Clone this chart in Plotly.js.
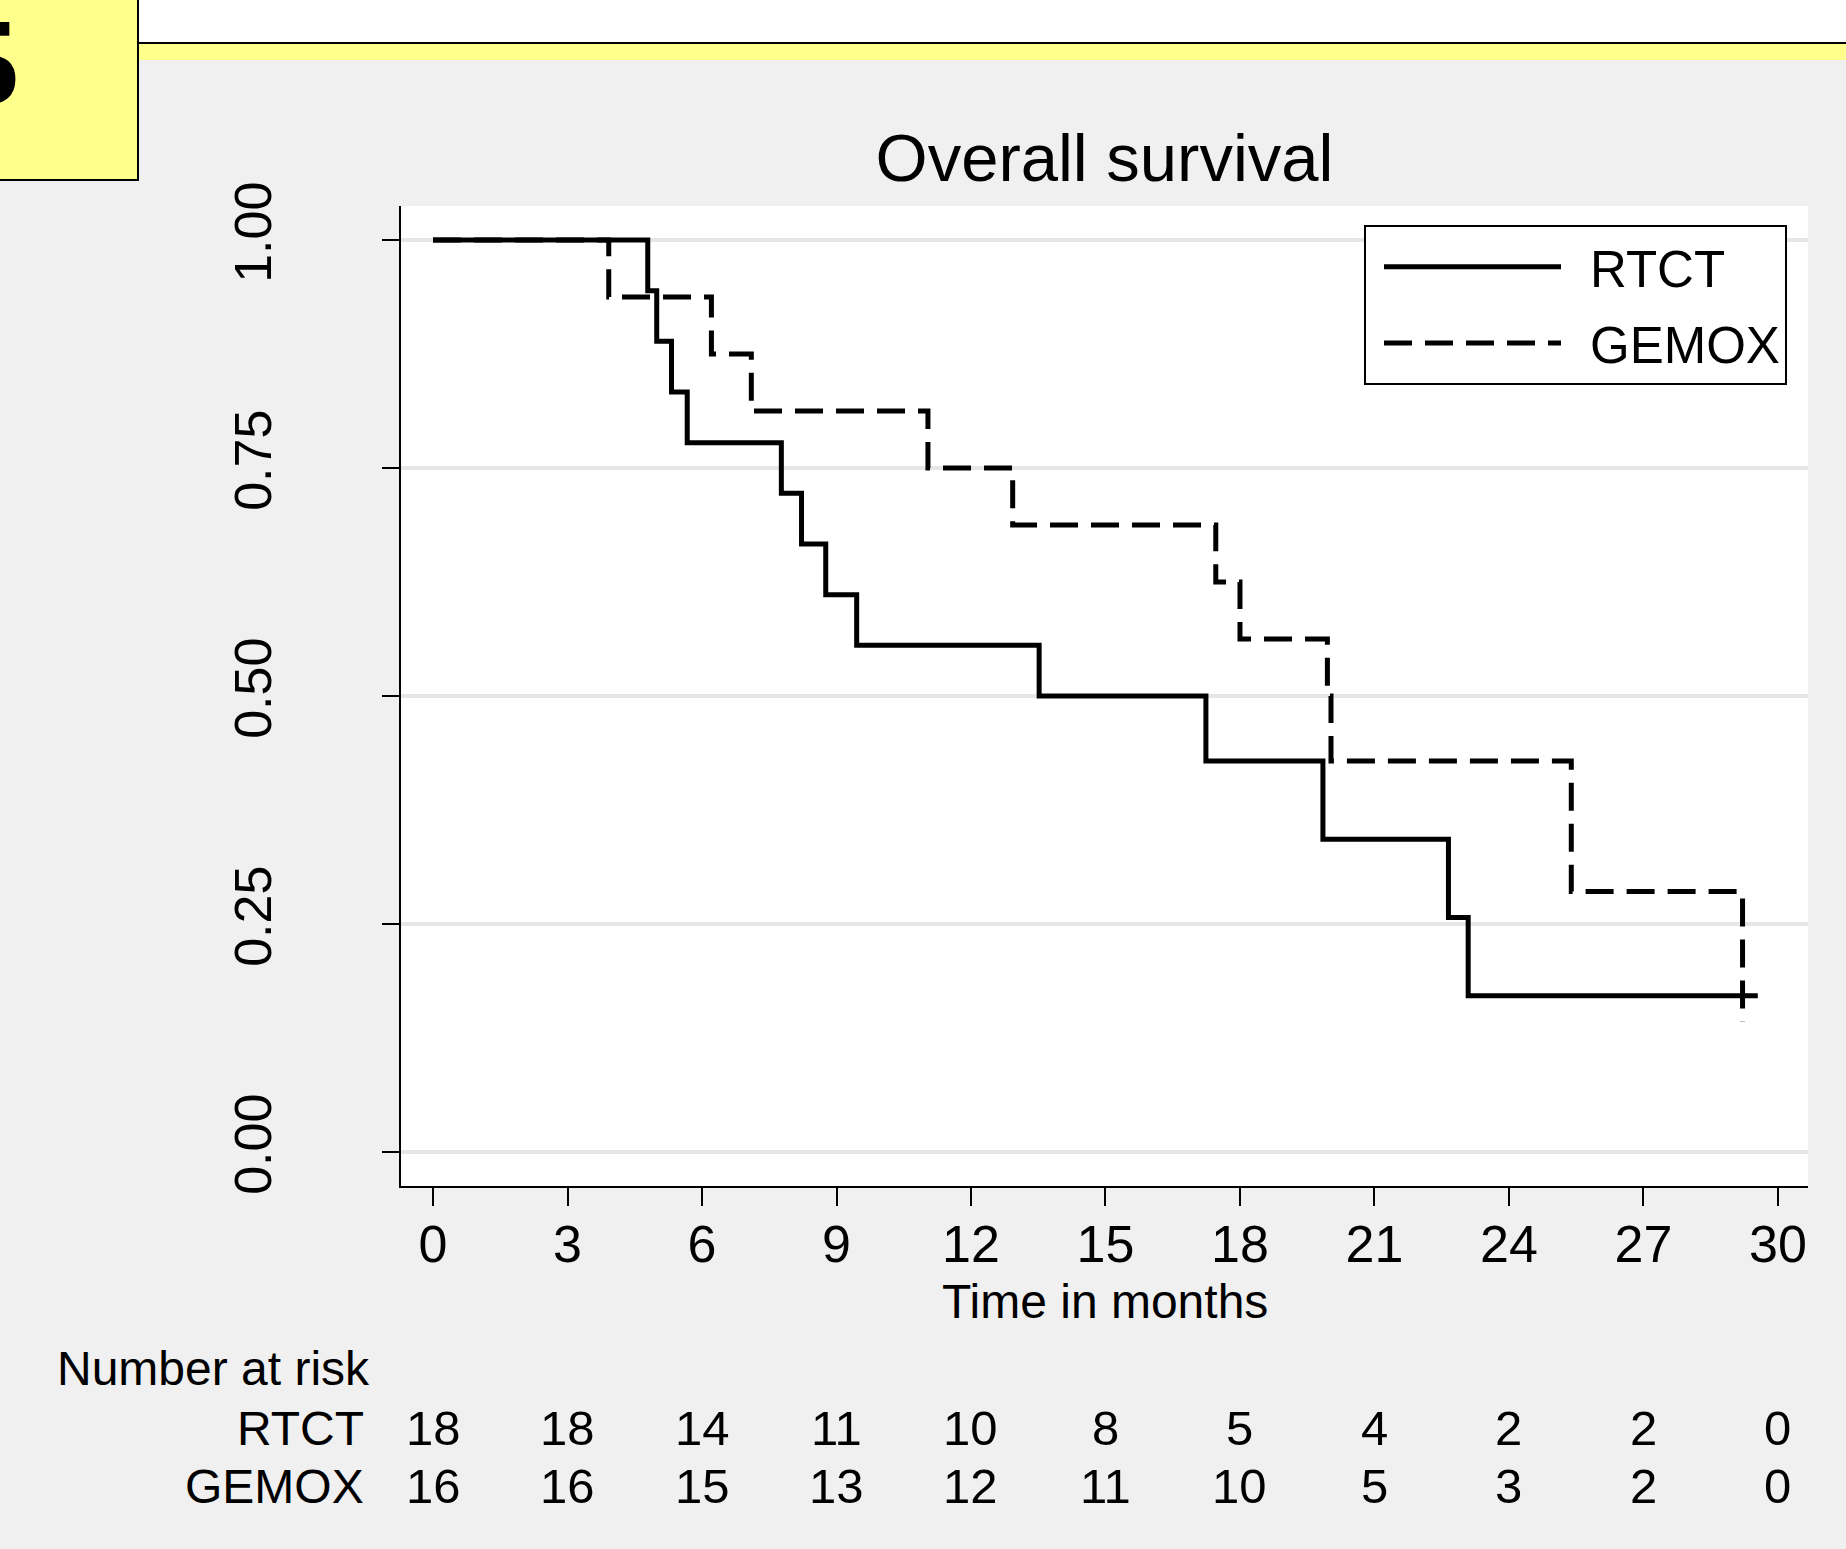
<!DOCTYPE html>
<html>
<head>
<meta charset="utf-8">
<script src="https://cdn.plot.ly/plotly-3.0.1.min.js"></script>
<style>
  html, body { margin:0; padding:0; background:#f0f0f0; overflow:hidden; }
  #wrap { position:relative; width:1846px; height:1549px; }
  #chart { position:absolute; left:0; top:0; width:1846px; height:1549px; }
  .deco { position:absolute; pointer-events:none; box-sizing:border-box; }
</style>
</head>
<body>
<div id="wrap">
  <div id="chart"></div>
  <div class="deco" style="left:138px; top:0; width:1708px; height:43px; background:#ffffff;"></div>
  <div class="deco" style="left:138px; top:42px; width:1708px; height:18px; background:#ffff8c; border-top:2px solid #000;"></div>
  <div class="deco" style="left:-2px; top:-2px; width:141px; height:183px; background:#ffff8c; border:2px solid #000; overflow:hidden;">
    <div style="position:absolute; right:117px; top:0px; font-family:'Liberation Serif','Times New Roman',serif; font-weight:bold; font-size:125px; line-height:125px; color:#000;">5</div>
  </div>
</div>
<script>
// ---- data ----
var seriesNames = ["RTCT", "GEMOX"];

var rtctTime = [0, 4.79, 4.99, 5.32, 5.67, 7.77, 8.22, 8.76, 9.45, 13.52, 17.24, 19.85, 22.65, 23.09, 29.55];
var rtctSurv = [1, 0.9444, 0.8889, 0.8333, 0.7778, 0.7222, 0.6667, 0.6111, 0.5556, 0.5, 0.4286, 0.3429, 0.2571, 0.1714, 0.1714];

var gemoxTime = [0, 3.92, 6.21, 7.10, 11.04, 12.93, 17.46, 18.0, 19.95, 20.03, 25.39, 29.21];
var gemoxSurv = [1, 0.9375, 0.875, 0.8125, 0.75, 0.6875, 0.625, 0.5625, 0.5, 0.4286, 0.2857, 0.1429];

var riskTimes = [0, 3, 6, 9, 12, 15, 18, 21, 24, 27, 30];
var rtctAtRisk = [18, 18, 14, 11, 10, 8, 5, 4, 2, 2, 0];
var gemoxAtRisk = [16, 16, 15, 13, 12, 11, 10, 5, 3, 2, 0];

var yTickVals = [0, 0.25, 0.5, 0.75, 1];

var chartTitle = "Overall survival";
var xTitle = "Time in months";
var riskHeader = "Number at risk";

// ---- style ----
var FONT = "Liberation Sans, Arial, Helvetica, sans-serif";
var W = 1846, H = 1549;
var M = {l: 401, r: 38, t: 206, b: 363};
var plotH = H - M.t - M.b;
function py(pixY) { return (H - M.b - pixY) / plotH; }
function px(pixX) { return (pixX - M.l) / (W - M.l - M.r); }

var traces = [
  {
    x: rtctTime, y: rtctSurv, name: seriesNames[0], legendgroup: "g1",
    type: "scatter", mode: "lines",
    line: {shape: "hv", color: "#000000", width: 5}
  },
  {
    x: gemoxTime, y: gemoxSurv, name: seriesNames[1], legendgroup: "g2",
    type: "scatter", mode: "lines",
    line: {shape: "hv", color: "#000000", width: 5, dash: "28px,13px"}
  }
];

var TXT = 48;
var annotations = [];
annotations.push({xref: "paper", yref: "paper", x: 0.5, y: py(1301), xanchor: "center", yanchor: "middle",
  text: xTitle, showarrow: false, font: {family: FONT, size: 48, color: "#000"}});
annotations.push({xref: "paper", yref: "paper", x: px(55), y: py(1368), xanchor: "left", yanchor: "middle",
  text: riskHeader, showarrow: false, font: {family: FONT, size: TXT, color: "#000"}});
annotations.push({xref: "paper", yref: "paper", x: px(366), y: py(1428), xanchor: "right", yanchor: "middle",
  text: seriesNames[0], showarrow: false, font: {family: FONT, size: TXT, color: "#000"}});
annotations.push({xref: "paper", yref: "paper", x: px(366), y: py(1486), xanchor: "right", yanchor: "middle",
  text: seriesNames[1], showarrow: false, font: {family: FONT, size: TXT, color: "#000"}});
for (var i = 0; i < riskTimes.length; i++) {
  annotations.push({xref: "x", yref: "paper", x: riskTimes[i], y: py(1428), xanchor: "center", yanchor: "middle",
    text: String(rtctAtRisk[i]), showarrow: false, font: {family: FONT, size: 49, color: "#000"}});
  annotations.push({xref: "x", yref: "paper", x: riskTimes[i], y: py(1486), xanchor: "center", yanchor: "middle",
    text: String(gemoxAtRisk[i]), showarrow: false, font: {family: FONT, size: 49, color: "#000"}});
}

var layout = {
  width: W, height: H,
  margin: M,
  paper_bgcolor: "#f0f0f0",
  plot_bgcolor: "#ffffff",
  font: {family: FONT, color: "#000000"},
  title: {
    text: chartTitle,
    font: {family: FONT, size: 67, color: "#000"},
    xref: "paper", x: 0.5, xanchor: "center",
    yref: "container", y: 1 - 158 / H, yanchor: "middle"
  },
  xaxis: {
    range: [-0.714, 30.67],
    tickmode: "array", tickvals: riskTimes, ticktext: riskTimes.map(String),
    ticks: "outside", ticklen: 18, tickwidth: 2, tickcolor: "#000",
    showline: true, linecolor: "#000", linewidth: 2,
    showgrid: false, zeroline: false,
    tickfont: {family: FONT, size: 52, color: "#000"},
    ticklabelstandoff: -6
  },
  yaxis: {
    range: [-0.0373, 1.0373],
    tickmode: "array", tickvals: yTickVals, ticktext: yTickVals.map(function(v){return v.toFixed(2);}),
    ticks: "outside", ticklen: 17, tickwidth: 2, tickcolor: "#000",
    showline: true, linecolor: "#000", linewidth: 2,
    showgrid: true, gridcolor: "#e6e6e6", gridwidth: 4,
    zeroline: false,
    tickangle: -90,
    tickfont: {family: FONT, size: 52, color: "#000"},
    ticklabelstandoff: 90
  },
  legend: {
    x: px(1364), y: py(225), xanchor: "left", yanchor: "top",
    bgcolor: "#ffffff", bordercolor: "#000000", borderwidth: 2,
    font: {family: FONT, size: 51, color: "#000"},
    itemwidth: 214,
    traceorder: "grouped",
    tracegroupgap: 7
  },
  showlegend: true,
  annotations: annotations
};

Plotly.newPlot("chart", traces, layout, {displayModeBar: false, staticPlot: true}).then(function () {
  // shorten the legend line samples so they sit with a gap before the labels, as in the reference
  var paths = document.querySelectorAll("#chart .legend .legendlines path");
  for (var k = 0; k < paths.length; k++) {
    paths[k].setAttribute("d", "M18,0h177");
  }
});
</script>
</body>
</html>
